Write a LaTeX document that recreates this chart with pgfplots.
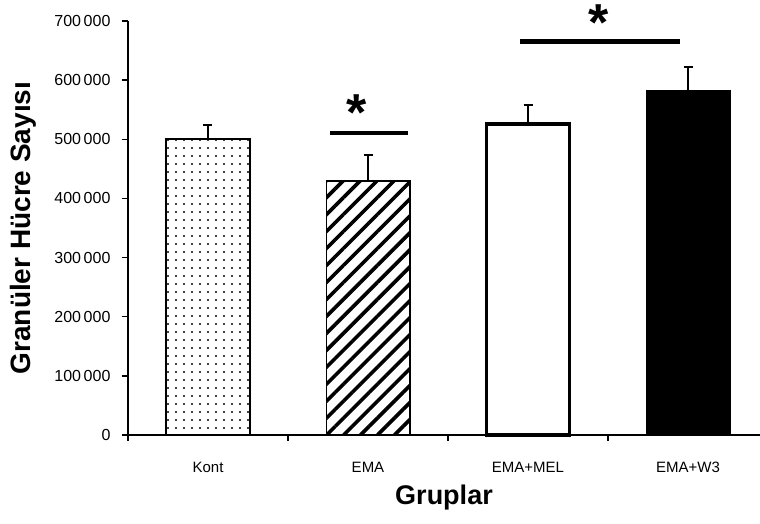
\documentclass[border=0pt]{standalone}
\usepackage{fontspec}
\setmainfont{Liberation Sans}
\usepackage{pgfplots}
\pgfplotsset{compat=1.18}
\usetikzlibrary{patterns.meta}
\begin{document}
\begin{tikzpicture}
\path[use as bounding box] (-128pt,-89pt) rectangle (632pt,435pt);
\begin{axis}[
  width=632pt, height=414pt, scale only axis,
  xmin=0, xmax=3.95, ymin=0, ymax=700000,
  axis x line*=bottom, axis y line*=left,
  ybar, bar width=0.52, bar shift=0pt,
  xtick={0,1,2,3}, xticklabels={},
  extra x ticks={0.5,1.5,2.5,3.5},
  extra x tick labels={Kont,EMA,EMA+MEL,EMA+W3},
  extra x tick style={major tick length=0pt},
  xticklabel style={font=\fontsize{15}{17}\selectfont, yshift=-23pt, text height=11pt, text depth=0pt},
  ytick={0,100000,...,700000}, scaled y ticks=false,
  yticklabel style={font=\fontsize{16}{18}\selectfont, xshift=-8pt,
    /pgf/number format/fixed, /pgf/number format/1000 sep={\,}, /pgf/number format/assume math mode=true},
  tick align=outside, major tick length=6pt,
  axis line style={line width=1.3pt},
  tick style={line width=1.3pt, black},
  clip=false,
  every axis y label/.style={at={(axis description cs:-0.166,0.5)}, rotate=90, anchor=center, font=\fontsize{28}{30}\selectfont\bfseries},
  every axis x label/.style={at={(axis description cs:0.5,-0.15)}, anchor=center, font=\fontsize{27}{30}\selectfont\bfseries},
  xlabel={Gruplar}, ylabel={Granüler Hücre Sayısı},
  eb/.style={error bars/y dir=plus, error bars/y explicit,
    error bars/error mark=|,
    error bars/error bar style={line width=1.6pt, black},
    error bars/error mark options={line width=1.6pt, mark size=4.5pt, black}},
]
\addplot[eb, draw=black, line width=1.8pt, pattern={Dots[distance=8pt,radius=1.1pt]}, pattern color=black]
  coordinates {(0.5,500000) +- (0,24000)};
\addplot[eb, draw=black, line width=1.8pt, pattern={Lines[angle=45,distance=12pt,line width=3.6pt]}, pattern color=black]
  coordinates {(1.5,430000) +- (0,43500)};
\addplot[eb, draw=black, line width=3.2pt, fill=white]
  coordinates {(2.5,526000) +- (0,31500)};
\addplot[eb, draw=black, line width=1.8pt, fill=black]
  coordinates {(3.5,582000) +- (0,40000)};
% significance lines
\addplot[sharp plot, black, line width=4.5pt, no markers] coordinates {(1.26,511000) (1.75,511000)};
\addplot[sharp plot, black, line width=4.5pt, no markers] coordinates {(2.45,665700) (3.45,665700)};
\node[font=\fontsize{52}{52}\selectfont\bfseries, inner sep=0pt, anchor=base] at (axis cs:1.43,515000) {*};
\node[font=\fontsize{52}{52}\selectfont\bfseries, inner sep=0pt, anchor=base] at (axis cs:2.94,667300) {*};
\end{axis}
\end{tikzpicture}
\end{document}
